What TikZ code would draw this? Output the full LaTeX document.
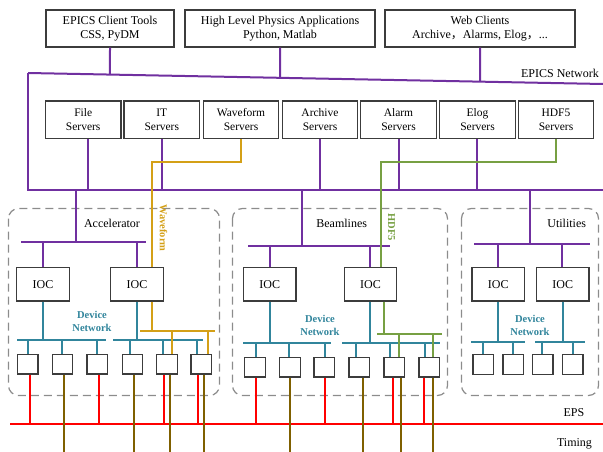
\documentclass[tikz,border=0pt]{standalone}
\usepackage{fontspec}
\setmainfont{Liberation Serif}
\newfontfamily\cjk{Noto Sans CJK SC}
\usetikzlibrary{calc}
\definecolor{epurple}{HTML}{7030A0}
\definecolor{eorange}{HTML}{D4A017}
\definecolor{egreen}{HTML}{77A043}
\definecolor{eteal}{HTML}{31859C}
\definecolor{ered}{HTML}{FF0000}
\definecolor{ebrown}{HTML}{7F6000}
\definecolor{edash}{HTML}{8C8C8C}
\definecolor{eborder}{HTML}{3C3C3C}
\begin{document}
\begin{tikzpicture}[x=1pt,y=-1pt,
  topbox/.style={draw=eborder, line width=1.3pt, inner sep=0pt, align=center,
    minimum height=37pt, font=\fontsize{12}{14.5}\selectfont},
  srvbox/.style={draw=eborder, line width=1.3pt, inner sep=0pt, align=center,
    minimum width=75.5pt, minimum height=37.5pt, font=\fontsize{11.5}{14}\selectfont},
  iocbox/.style={draw=eborder, line width=1.2pt, inner sep=0pt,
    minimum width=52.5pt, minimum height=33.3pt, font=\fontsize{12}{14}\selectfont},
  devbox/.style={draw=eborder, line width=1.3pt, inner sep=0pt,
    minimum width=20.5pt, minimum height=19.7pt},
  group/.style={draw=edash, line width=1.2pt, dash pattern=on 8pt off 5pt, rounded corners=10pt},
  lbl/.style={font=\fontsize{12}{14}\selectfont, inner sep=0pt},
  devlbl/.style={font=\fontsize{10.5}{13}\selectfont\bfseries, text=eteal, align=center, inner sep=0pt},
  pl/.style={draw=epurple, line width=2pt},
  orl/.style={draw=eorange, line width=2pt},
  grl/.style={draw=egreen, line width=2pt},
  tl/.style={draw=eteal, line width=2pt},
  rdl/.style={draw=ered, line width=2pt},
  brl/.style={draw=ebrown, line width=2pt}]
\useasboundingbox (0,0) rectangle (603,452);

% groups
\draw[group] (8.5,208.5) rectangle (219.5,395.5);
\draw[group] (232.5,208.5) rectangle (447.5,395.5);
\draw[group] (461.5,208.5) rectangle (598.5,395.5);

% top boxes
\node[topbox, minimum width=128pt] (cA) at (110,28.5) {EPICS Client Tools\\CSS, PyDM};
\node[topbox, minimum width=190pt] (cB) at (280,28.5) {High Level Physics Applications\\Python, Matlab};
\node[topbox, minimum width=190pt] (cC) at (480,28.5) {Web Clients\\Archive{\cjk ，}Alarms, Elog{\cjk ，}...};

% EPICS network
\coordinate (netL) at (28,73);
\coordinate (netR) at (603,84);
\coordinate (netA) at ($(netL)!0.1426!(netR)$);
\coordinate (netB) at ($(netL)!0.4383!(netR)$);
\coordinate (netC) at ($(netL)!0.7861!(netR)$);
\node[lbl, anchor=east] (netlbl) at (599,73) {EPICS Network};
\coordinate (busL) at (28,190);
\coordinate (busR) at (603,190);
\draw[pl] (netL) -- (netR);
\draw[pl] (netL) -- (busL) -- (busR);
\draw[pl] (cA.south) -- (netA);
\draw[pl] (cB.south) -- (netB);
\draw[pl] (cC.south) -- (netC);

% servers
\node[srvbox] (file) at (83.2,119.7) {File\\Servers};
\node[srvbox] (it) at (161.8,119.7) {IT\\Servers};
\node[srvbox] (wave) at (241,119.7) {Waveform\\Servers};
\node[srvbox] (arch) at (320,119.7) {Archive\\Servers};
\node[srvbox] (alarm) at (398.5,119.7) {Alarm\\Servers};
\node[srvbox] (elog) at (477.5,119.7) {Elog\\Servers};
\node[srvbox] (hdf) at (556,119.7) {HDF5\\Servers};
\foreach \n/\x in {file/88,it/162,arch/320,alarm/399,elog/477}{
  \coordinate (t) at (\x,190);
  \draw[pl] (\n.south -| t) -- (t);
}

% accelerator
\node[lbl] (acclbl) at (112,223) {Accelerator};
\node[iocbox] (aI1) at (43,284.3) {IOC};
\node[iocbox] (aI2) at (137,284.3) {IOC};
\coordinate (aDrop) at (76,190);
\coordinate (aBus) at (76,242);
\draw[pl] (aDrop) -- (aBus);
\draw[pl] (21,242) -- (146,242);
\foreach \n/\x in {aI1/43,aI2/137}{
  \coordinate (t) at (\x,242);
  \draw[pl] (t) -- (t |- \n.north);
}
% beamlines
\node[lbl] (bllbl) at (341.7,223) {Beamlines};
\node[iocbox] (bI1) at (269.7,284.3) {IOC};
\node[iocbox] (bI2) at (370.5,284.3) {IOC};
\coordinate (bDrop) at (302,190);
\coordinate (bBus) at (302,246);
\draw[pl] (bDrop) -- (bBus);
\draw[pl] (248,246) -- (390,246);
\foreach \n/\x in {bI1/270,bI2/370}{
  \coordinate (t) at (\x,246);
  \draw[pl] (t) -- (t |- \n.north);
}
% utilities
\node[lbl] (utlbl) at (566.7,223) {Utilities};
\node[iocbox] (uI1) at (498.3,284.3) {IOC};
\node[iocbox] (uI2) at (562.8,284.3) {IOC};
\coordinate (uDrop) at (530,190);
\coordinate (uBus) at (530,244);
\draw[pl] (uDrop) -- (uBus);
\draw[pl] (474,244) -- (590,244);
\foreach \n/\x in {uI1/498,uI2/562}{
  \coordinate (t) at (\x,244);
  \draw[pl] (t) -- (t |- \n.north);
}

% waveform route
\coordinate (wf1) at (152,162);
\draw[orl] (wave.south) |- (wf1) -- (wf1 |- aI2.north);
\node[rotate=-90, font=\fontsize{10.5}{12}\selectfont\bfseries, text=eorange, inner sep=0pt] (wflbl) at (163.5,228) {Waveform};
% hdf5 route
\coordinate (hd1) at (381,162);
\draw[grl] (hdf.south) |- (hd1) -- (hd1 |- bI2.north);
\node[rotate=-90, font=\fontsize{10.5}{12}\selectfont\bfseries, text=egreen, inner sep=0pt] (hdlbl) at (391.5,227.5) {HDF5};

% device boxes
\foreach \n/\x in {a1/27.8,a2/62.5,a3/97.3,a4/132.5,a5/167,a6/201.3}
  \node[devbox] (\n) at (\x,364.2) {};
\foreach \n/\x in {b1/255,b2/290,b3/324.3,b4/359.3,b5/394.3,b6/429.3}
  \node[devbox] (\n) at (\x,367) {};
\foreach \n/\x in {u1/483.3,u2/513.3,u3/542.7,u4/572.7}
  \node[devbox] (\n) at (\x,364.5) {};

% device networks (teal)
\foreach \n/\x/\y in {aI1/43/340,aI2/137/340,bI1/270/343,bI2/370/343,uI1/498/342,uI2/563/342}{
  \coordinate (t) at (\x,\y);
  \draw[tl] (\n.south -| t) -- (t);
}
\draw[tl] (17,340) -- (106,340);
\draw[tl] (113,340) -- (203,340);
\draw[tl] (243,343) -- (331,343);
\draw[tl] (342,343) -- (440,343);
\draw[tl] (471,342) -- (525,342);
\draw[tl] (535,342) -- (585,342);
\foreach \n/\x/\y in {a1/28/340,a2/62/340,a3/97/340,a4/130/340,a5/163/340,a6/197/340,
  b1/256/343,b2/289/343,b3/325/343,b4/356/343,b5/390/343,b6/425/343,
  u1/483/342,u2/513/342,u3/542/342,u4/573/342}{
  \coordinate (t) at (\x,\y);
  \draw[tl] (t) -- (t |- \n.north);
}
\node[devlbl] (adn) at (92,321.5) {Device\\Network};
\node[devlbl] (bdn) at (320,325) {Device\\Network};
\node[devlbl] (udn) at (530,325) {Device\\Network};

% waveform distribution
\coordinate (wf2) at (152,331);
\draw[orl] (aI2.south -| wf2) -- (wf2);
\draw[orl] (140,331) -- (215,331);
\foreach \n/\x in {a5/172,a6/208}{
  \coordinate (t) at (\x,331);
  \draw[orl] (t) -- (t |- \n.north);
}
% hdf5 distribution
\coordinate (hd2) at (384,334);
\draw[grl] (bI2.south -| hd2) -- (hd2);
\draw[grl] (377,334) -- (442,334);
\foreach \n/\x in {b5/399,b6/433}{
  \coordinate (t) at (\x,334);
  \draw[grl] (t) -- (t |- \n.north);
}

% EPS
\coordinate (epsL) at (10,424);
\coordinate (epsR) at (603,424);
\draw[rdl] (epsL) -- (epsR);
\node[lbl] (epslbl) at (574,413) {EPS};
\node[lbl] (timlbl) at (574.5,443.5) {Timing};
\foreach \n/\x in {a1/30,a3/99,a5/164,a6/198,b1/256,b3/325,b5/393,b6/424}{
  \coordinate (t) at (\x,424);
  \draw[rdl] (\n.south -| t) -- (t);
}
% Timing
\foreach \n/\x in {a2/64,a4/134,a5/170,a6/204,b2/290,b4/363,b5/401,b6/433}{
  \coordinate (t) at (\x,452);
  \draw[brl] (\n.south -| t) -- (t);
}
\end{tikzpicture}
\end{document}
